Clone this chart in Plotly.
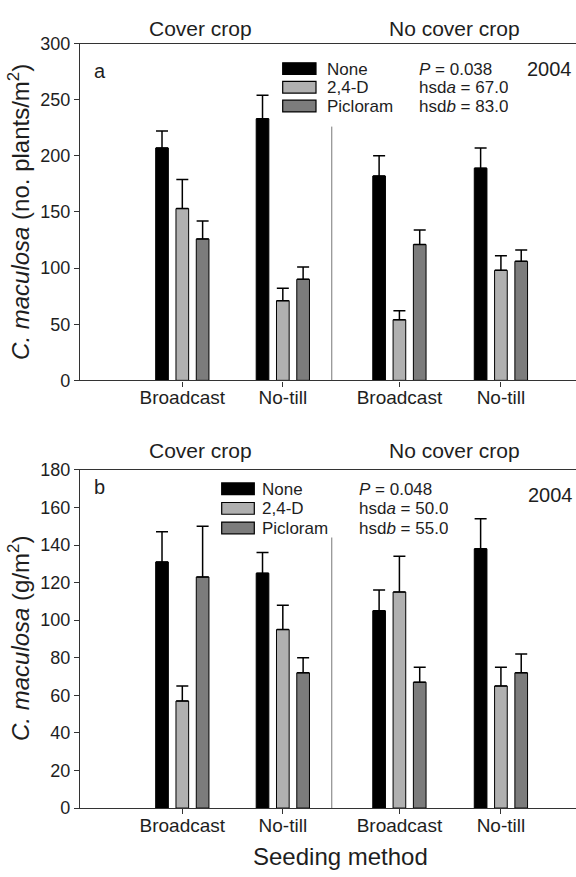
import plotly.graph_objects as go
from plotly.subplots import make_subplots

# ---------------- data ----------------
treatments = ["None", "2,4-D", "Picloram"]
seeding = ["Broadcast", "No-till", "Broadcast", "No-till"]
crop_groups = ["Cover crop", "No cover crop"]

density_none = [207, 233, 182, 189]
density_none_err = [15, 21, 18, 18]
density_24d = [153, 71, 54, 98]
density_24d_err = [26, 11, 8, 13]
density_pic = [126, 90, 121, 106]
density_pic_err = [16, 11, 13, 10]

biomass_none = [131, 125, 105, 138]
biomass_none_err = [16, 11, 11, 16]
biomass_24d = [57, 95, 115, 65]
biomass_24d_err = [8, 13, 19, 10]
biomass_pic = [123, 72, 67, 72]
biomass_pic_err = [27, 8, 8, 10]

stats_a = ["<i>P</i> = 0.038", "hsd<i>a</i> = 67.0", "hsd<i>b</i> = 83.0"]
stats_b = ["<i>P</i> = 0.048", "hsd<i>a</i> = 50.0", "hsd<i>b</i> = 55.0"]
year = "2004"

# ---------------- layout helpers ----------------
W, H = 576, 877
FONT = "Liberation Sans, Arial, Helvetica, sans-serif"
TXT = "#1e1e1e"
colors = ["#000000", "#b0b0b0", "#7c7c7c"]
group_pos = [0, 1, 2.16, 3.17]


def px(x):
    return x / W


def py(y):
    return 1 - y / H


top_dom = [py(379), py(34.3)]
bot_dom = [py(816.7), py(470.6)]

fig = make_subplots(rows=2, cols=1, vertical_spacing=0.05)

panels = [
    (1, [density_none, density_24d, density_pic],
     [density_none_err, density_24d_err, density_pic_err]),
    (2, [biomass_none, biomass_24d, biomass_pic],
     [biomass_none_err, biomass_24d_err, biomass_pic_err]),
]
for row, vals, errs in panels:
    for name, v, e, c in zip(treatments, vals, errs, colors):
        fig.add_trace(
            go.Bar(
                x=group_pos, y=v, name=name, showlegend=False,
                marker=dict(color=c, line=dict(color="#000000", width=1)),
                error_y=dict(type="data", symmetric=False, array=e,
                             arrayminus=[0] * len(e), color="#000000",
                             thickness=1.5, width=6),
            ),
            row=row, col=1,
        )

axis_common = dict(showline=True, linecolor="#333333", linewidth=1.3,
                   ticks="outside", ticklen=5, tickwidth=1.2,
                   tickcolor="#333333", showgrid=False, zeroline=False)

for ax in ["xaxis", "xaxis2"]:
    fig.layout[ax].update(
        domain=[px(80), 1.0], range=[-1.018, 3.917],
        tickvals=group_pos, ticktext=seeding, mirror=True,
        ticklabelstandoff=-5,
        tickfont=dict(size=19, color=TXT, family=FONT), **axis_common)

fig.layout.yaxis.update(domain=top_dom, range=[0, 300], dtick=50,
                        tickfont=dict(size=18, color=TXT, family=FONT),
                        **axis_common)
fig.layout.yaxis2.update(domain=bot_dom, range=[0, 180], dtick=20,
                         tickfont=dict(size=18, color=TXT, family=FONT),
                         **axis_common)

shapes = []
annotations = []

# separators between cover / no cover crop
shapes.append(dict(type="line", xref="x", yref="y", x0=1.487, x1=1.487,
                   y0=0, y1=226, line=dict(color="#777777", width=1)))
shapes.append(dict(type="line", xref="x2", yref="y2", x0=1.487, x1=1.487,
                   y0=0, y1=144, line=dict(color="#777777", width=1)))


def text(x, y, s, size, xanchor="left", angle=0, height=None):
    a = dict(x=px(x), y=py(y), xref="paper", yref="paper",
             text=s, showarrow=False, xanchor=xanchor,
             yanchor="middle", textangle=angle,
             font=dict(size=size, color=TXT, family=FONT))
    if height is not None:
        a["height"] = height
    annotations.append(a)


# group headings
for yy in (19, 451):
    text(200.7, yy, crop_groups[0], 21, "center")
    text(454.4, yy, crop_groups[1], 21, "center")

# panel letters
text(91.5, 62.5, "a", 20)
text(91.5, 488.3, "b", 20)

# legends
legends = [
    (282.7, 316, 325, 417, [60, 79, 98.3], stats_a, 525, 60),
    (221.7, 254.3, 260, 357, [490, 510, 530], stats_b, 526, 496.7),
]
for sx0, sx1, tx, stx, rows, stats, yx, yy in legends:
    for c, name, st, ry in zip(colors, treatments, stats, rows):
        shapes.append(dict(type="rect", xref="paper", yref="paper",
                           x0=px(sx0), x1=px(sx1), y0=py(ry + 6), y1=py(ry - 6),
                           fillcolor=c, line=dict(color="#000000", width=1.2)))
        text(tx, ry, name, 17, height=18)
        text(stx, ry, st, 17, height=18)
    text(yx, yy, year, 20)

# axis titles
text(19, (379 + 34.3) / 2, "<i>C. maculosa</i> (no. plants/m<sup>2</sup>)", 24,
     "center", -90)
text(19, (816.7 + 470.6) / 2, "<i>C. maculosa</i> (g/m<sup>2</sup>)", 24,
     "center", -90)
text(340.5, 866.7, "Seeding method", 24, "center")

fig.update_layout(
    width=W, height=H, margin=dict(l=0, r=0, t=0, b=0),
    paper_bgcolor="white", plot_bgcolor="white",
    barmode="group", bargap=0.394, bargroupgap=0.376,
    font=dict(family=FONT, color=TXT),
    shapes=shapes, annotations=annotations, showlegend=False,
)

fig.write_html("out.html")
